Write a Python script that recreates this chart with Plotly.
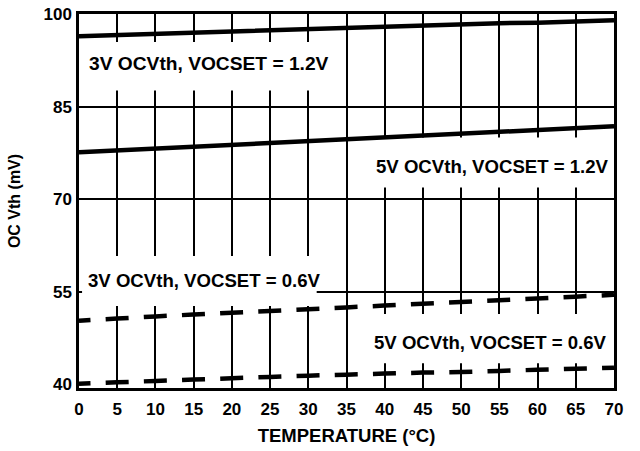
import plotly.graph_objects as go

temperature = [0, 5, 10, 15, 20, 25, 30, 35, 40, 45, 50, 55, 60, 65, 70]
v3_vocset_12 = [96.4, 96.6, 96.8, 97.0, 97.2, 97.4, 97.5, 97.7, 97.9, 98.1, 98.3, 98.5, 98.6, 98.8, 99.0]
v5_vocset_12 = [77.6, 77.9, 78.2, 78.5, 78.8, 79.1, 79.4, 79.7, 80.0, 80.3, 80.6, 80.9, 81.2, 81.5, 81.8]
v3_vocset_06 = [50.3, 50.7, 51.0, 51.3, 51.6, 51.9, 52.2, 52.5, 52.8, 53.1, 53.4, 53.7, 53.9, 54.2, 54.5]
v5_vocset_06 = [40.1, 40.35, 40.6, 40.85, 41.0, 41.2, 41.4, 41.6, 41.8, 41.9, 42.0, 42.2, 42.4, 42.6, 42.7]

x_ticks = list(range(0, 75, 5))
y_ticks = [40, 55, 70, 85, 100]
y_grid = [55, 70, 85]

FONT = "Liberation Sans, Arial, sans-serif"
dash = "11.5px,15.2px,11.5px,0px"

fig = go.Figure()
fig.add_trace(go.Scatter(x=temperature, y=v3_vocset_12, mode="lines",
                         line=dict(color="black", width=4.5), showlegend=False))
fig.add_trace(go.Scatter(x=temperature, y=v5_vocset_12, mode="lines",
                         line=dict(color="black", width=4.5), showlegend=False))
fig.add_trace(go.Scatter(x=temperature, y=v3_vocset_06, mode="lines",
                         line=dict(color="black", width=4.5, dash=dash), showlegend=False))
fig.add_trace(go.Scatter(x=temperature, y=v5_vocset_06, mode="lines",
                         line=dict(color="black", width=4.5, dash=dash), showlegend=False))

# white boxes behind the labels (hide gridlines)
boxes = [(0.4, 33.5, 87.6, 95.45), (36.8, 69.7, 71.9, 80.0),
         (0.4, 31.1, 52.7, 60.8), (36.8, 69.7, 43.4, 51.4)]
for x0, x1, y0, y1 in boxes:
    fig.add_shape(type="rect", x0=x0, x1=x1, y0=y0, y1=y1, xref="x", yref="y",
                  fillcolor="white", line=dict(width=0), layer="between")

labels = [("3V OCVth, VOCSET = 1.2V", 1.1, 92.0, "left", 19.2),
          ("5V OCVth, VOCSET = 1.2V", 69.6, 75.3, "right", 18.6),
          ("3V OCVth, VOCSET = 0.6V", 0.9, 56.9, "left", 18.6),
          ("5V OCVth, VOCSET = 0.6V", 69.3, 46.8, "right", 18.6)]
for txt, x, y, anc, fs in labels:
    fig.add_annotation(x=x, y=y, text="<b>%s</b>" % txt, showarrow=False,
                       xanchor=anc, yanchor="middle",
                       font=dict(family=FONT, size=fs, color="black"))

fig.update_layout(
    width=640, height=451,
    margin=dict(l=79, r=26, t=14, b=63),
    paper_bgcolor="white", plot_bgcolor="white",
    font=dict(family=FONT, color="black"),
)
fig.update_xaxes(range=[0, 70], tickvals=x_ticks,
                 ticktext=["<b>%d</b>" % v for v in x_ticks],
                 tickfont=dict(size=17), showgrid=True, gridcolor="black", gridwidth=2,
                 showline=True, linecolor="black", linewidth=2.5, mirror=True,
                 zeroline=False, ticks="outside", ticklen=4, tickcolor="rgba(0,0,0,0)",
                 automargin=False,
                 title=dict(text="<b>TEMPERATURE (°C)</b>", font=dict(size=18.5), standoff=11))
fig.update_yaxes(range=[39.4, 100], tickvals=y_ticks,
                 ticktext=["<b>%d</b>" % v for v in y_ticks],
                 tickfont=dict(size=17), showgrid=False,
                 minor=dict(tickvals=y_grid, showgrid=True, gridcolor="black", gridwidth=2,
                            ticks=""),
                 showline=True, linecolor="black", linewidth=2.5, mirror=True,
                 zeroline=False, ticks="outside", ticklen=1, tickcolor="rgba(0,0,0,0)",
                 automargin=False,
                 title=dict(text="<b>OC Vth (mV)</b>", font=dict(size=16), standoff=19))

fig.write_html("out.html", post_script="document.body.style.margin='0px';",
               config={"displayModeBar": False})
